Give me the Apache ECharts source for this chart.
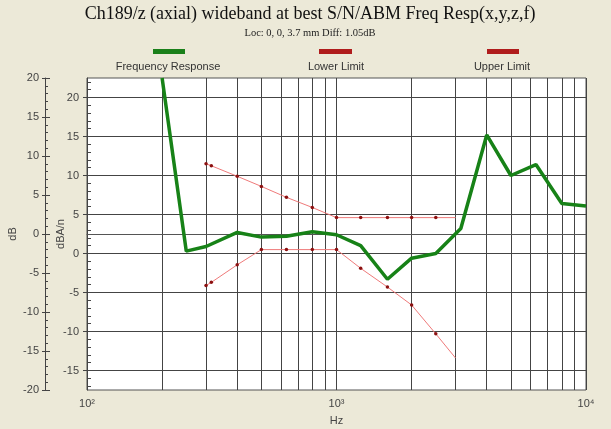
<!DOCTYPE html>
<html>
<head>
<meta charset="utf-8">
<title>Ch189/z Freq Resp</title>
<script src="https://cdn.jsdelivr.net/npm/echarts@6/dist/echarts.min.js"></script>
<style>
  html, body { margin: 0; padding: 0; background: #ece9d8; }
  #main { width: 611px; height: 429px; }
</style>
</head>
<body>
<div id="main"></div>
<script>
// frequency response (Hz / dBA/n)
var respFreq = [200, 250, 300, 400, 500, 630, 800, 1000, 1250, 1600, 2000, 2500, 3150, 4000, 5000, 6300, 8000, 10000];
var respVal = [22.5, 0.3, 0.9, 2.7, 2.1, 2.2, 2.8, 2.4, 1.0, -3.3, -0.6, 0.0, 3.2, 15.2, 10.0, 11.4, 6.4, 6.1];

// limits
var upperFreq = [300, 315, 400, 500, 630, 800, 1000, 1250, 1600, 2000, 2500, 3000];
var upperVal = [11.5, 11.25, 9.9, 8.6, 7.2, 5.9, 4.6, 4.6, 4.6, 4.6, 4.6, 4.6];
var lowerFreq = [300, 315, 400, 500, 630, 800, 1000, 1250, 1600, 2000, 2500, 3000];
var lowerVal = [-4.1, -3.7, -1.45, 0.5, 0.5, 0.5, 0.5, -1.9, -4.3, -6.6, -10.3, -13.4];

// ticks
var gridFreq = [100, 200, 300, 400, 500, 600, 700, 800, 900, 1000, 2000, 3000, 4000, 5000, 6000, 7000, 8000, 9000, 10000];
var xLabelFreq = [100, 1000, 10000];
var xLabelText = { 100: '10\u00b2', 1000: '10\u00b3', 10000: '10\u2074' };
var innerTicks = [-15, -10, -5, 0, 5, 10, 15, 20];
var innerMinor = [-17, -16, -15, -14, -13, -12, -11, -10, -9, -8, -7, -6, -5, -4, -3, -2, -1, 0, 1, 2, 3, 4, 5, 6, 7, 8, 9, 10, 11, 12, 13, 14, 15, 16, 17, 18, 19, 20, 21, 22];

var sans = 'Liberation Sans, Arial, sans-serif';
var serif = 'Liberation Serif, Times New Roman, serif';
var lbl = { color: '#444', fontSize: 11, fontFamily: sans };
var tickLine = { color: '#444' };

function pairs(xs, ys, lastBare) {
  return xs.map(function (x, i) {
    var d = { value: [x, ys[i]] };
    if (lastBare && i === xs.length - 1) d.symbol = 'none';
    return d;
  });
}

var chart = echarts.init(document.getElementById('main'));
chart.setOption({
  animation: false,
  backgroundColor: '#ece9d8',
  graphic: [
    { type: 'text', x: 310, y: 14, style: { text: 'Ch189/z (axial) wideband at best S/N/ABM Freq Resp(x,y,z,f)', font: '18px ' + serif, fill: '#111', align: 'center', verticalAlign: 'middle' } },
    { type: 'text', x: 310, y: 33, style: { text: 'Loc: 0, 0, 3.7 mm Diff: 1.05dB', font: '10.5px ' + serif, fill: '#222', align: 'center', verticalAlign: 'middle' } },
    // legend
    { type: 'rect', shape: { x: 153, y: 49, width: 32, height: 5 }, style: { fill: '#1a801a' } },
    { type: 'text', x: 168, y: 67, style: { text: 'Frequency Response', font: '11px ' + sans, fill: '#333', align: 'center', verticalAlign: 'middle' } },
    { type: 'rect', shape: { x: 319, y: 49, width: 33, height: 5 }, style: { fill: '#b01c1c' } },
    { type: 'text', x: 336, y: 67, style: { text: 'Lower Limit', font: '11px ' + sans, fill: '#333', align: 'center', verticalAlign: 'middle' } },
    { type: 'rect', shape: { x: 487, y: 49, width: 32, height: 5 }, style: { fill: '#b01c1c' } },
    { type: 'text', x: 502, y: 67, style: { text: 'Upper Limit', font: '11px ' + sans, fill: '#333', align: 'center', verticalAlign: 'middle' } }
  ],
  grid: {
    left: 87, right: 25, top: 78, bottom: 39,
    outerBoundsMode: 'none', containLabel: false,
    show: true, backgroundColor: '#fff', borderColor: '#555', borderWidth: 1
  },
  xAxis: [
    {
      type: 'log', logBase: 10, min: 100, max: 10000,
      name: 'Hz', nameLocation: 'middle', nameGap: 25, nameMoveOverlap: false,
      nameTextStyle: lbl,
      axisLine: { lineStyle: { color: '#555' } },
      axisTick: { show: false, customValues: gridFreq },
      axisLabel: Object.assign({ customValues: xLabelFreq, margin: 8, formatter: function (v) { return xLabelText[Math.round(v)] || ''; } }, lbl),
      splitLine: { show: true, lineStyle: { color: '#444', width: 1 } }
    },
    { // decade ticks below the axis
      type: 'log', logBase: 10, min: 100, max: 10000, position: 'bottom',
      axisLine: { show: false },
      axisTick: { show: true, length: 5, customValues: xLabelFreq, lineStyle: tickLine },
      axisLabel: { show: false },
      splitLine: { show: false }
    }
  ],
  yAxis: [
    { // outer dB axis
      type: 'value', position: 'left', offset: 42, min: -20, max: 20, interval: 5,
      name: 'dB', nameLocation: 'middle', nameGap: 27, nameRotate: 90, nameMoveOverlap: false, nameTextStyle: lbl,
      axisLine: { show: true, lineStyle: { color: '#444' } },
      axisTick: { show: true, inside: true, length: 5, lineStyle: tickLine },
      minorTick: { show: true, splitNumber: 5, length: 3, lineStyle: tickLine },
      axisLabel: Object.assign({ margin: 6 }, lbl),
      splitLine: { show: false }
    },
    { // inner dBA/n axis
      type: 'value', position: 'left', offset: 0, min: -17.5, max: 22.5,
      name: 'dBA/n', nameLocation: 'middle', nameGap: 21, nameRotate: 90, nameMoveOverlap: false, nameTextStyle: lbl,
      axisLine: { show: true, lineStyle: { color: '#444' } },
      axisTick: { show: true, length: 4, customValues: innerTicks, lineStyle: tickLine },
      axisLabel: Object.assign({ margin: 8, customValues: innerTicks }, lbl),
      splitLine: { show: true, lineStyle: { color: '#444', width: 1 } }
    },
    { // inner minor ticks
      type: 'value', position: 'left', offset: 0, min: -17.5, max: 22.5,
      axisLine: { show: false },
      axisTick: { show: true, inside: true, length: 4, customValues: innerMinor, lineStyle: tickLine },
      axisLabel: { show: false },
      splitLine: { show: false }
    },
    { // outer major ticks, left side
      type: 'value', position: 'left', offset: 42, min: -20, max: 20, interval: 5,
      axisLine: { show: false },
      axisTick: { show: true, length: 3, lineStyle: tickLine },
      axisLabel: { show: false },
      splitLine: { show: false }
    }
  ],
  series: [
    {
      name: 'Lower Limit', type: 'line', yAxisIndex: 1, z: 3,
      data: pairs(lowerFreq, lowerVal, true),
      symbol: 'circle', symbolSize: 3.5,
      itemStyle: { color: '#8b1010' },
      lineStyle: { color: '#ef7a7a', width: 1 }
    },
    {
      name: 'Upper Limit', type: 'line', yAxisIndex: 1, z: 3,
      data: pairs(upperFreq, upperVal, true),
      symbol: 'circle', symbolSize: 3.5,
      itemStyle: { color: '#8b1010' },
      lineStyle: { color: '#ef7a7a', width: 1 }
    },
    {
      name: 'Frequency Response', type: 'line', yAxisIndex: 1, z: 4,
      data: pairs(respFreq, respVal, false),
      showSymbol: false,
      lineStyle: { color: '#178217', width: 3.5 }
    }
  ]
});
</script>
</body>
</html>
